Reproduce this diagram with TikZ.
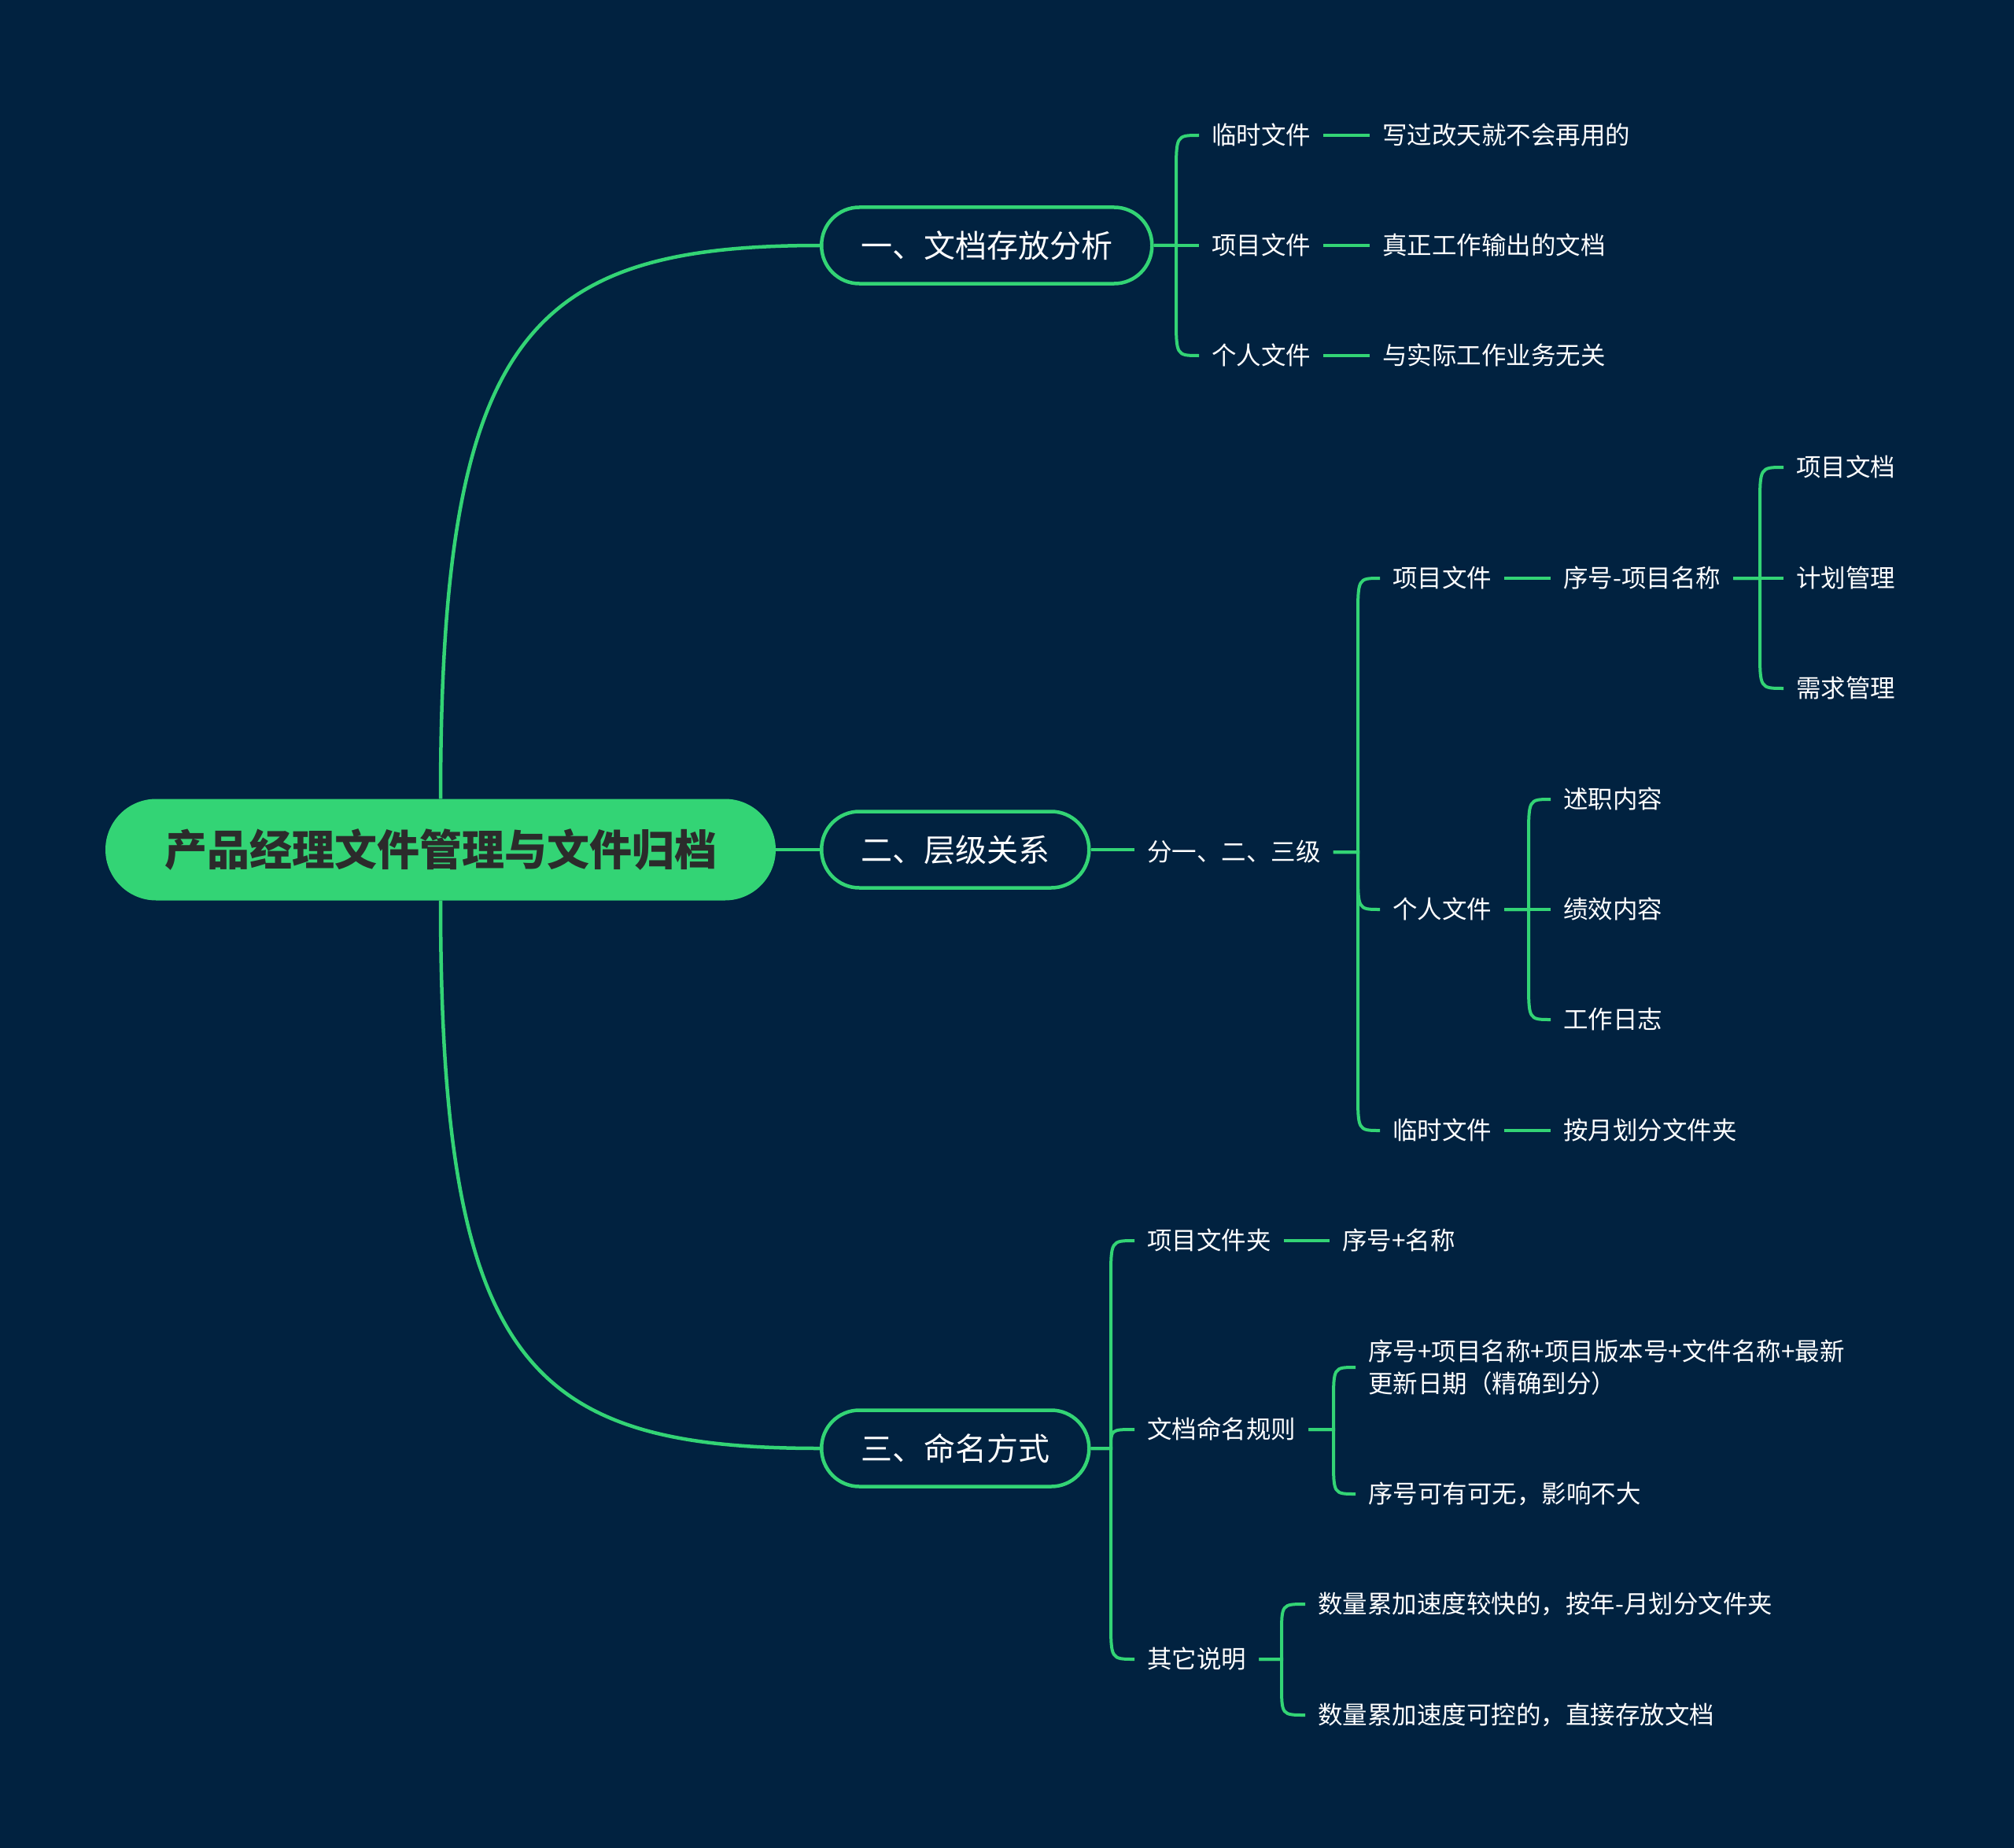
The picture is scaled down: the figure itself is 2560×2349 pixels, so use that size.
\documentclass[tikz,border=0pt]{standalone}
\usepackage{fontspec}
\setmainfont{Noto Sans CJK SC}
\usetikzlibrary{calc}
\definecolor{bg}{HTML}{012240}
\definecolor{grn}{HTML}{33D475}
\definecolor{dark}{HTML}{2B2B2B}
\newcommand\brk[4]{\draw[conn] (#1.east) -- (#1.east -| #2) -- ($(#3.west -| #2)+(0,#4)$) .. controls (#3.west -| #2) .. (#3.west);}
\newcommand\stl[2]{\draw[conn] (#1.east) -- (#2.west);}
\begin{document}
\begin{tikzpicture}[x=1pt,y=-1pt,
  font=\fontsize{31.5}{41}\selectfont,
  rootbox/.style={fill=grn, text=dark, font=\fontsize{54}{64}\selectfont\bfseries, rounded corners=64.5pt, minimum height=129pt, inner xsep=75pt, inner ysep=0pt},
  lvlbox/.style={draw=grn, line width=4.5pt, fill=bg, text=white, font=\fontsize{40}{48}\selectfont, rounded corners=48pt, minimum height=97pt, inner xsep=50pt, inner ysep=0pt, anchor=west},
  item/.style={text=white, inner xsep=16pt, inner ysep=4pt, anchor=west, text height=27.7pt, text depth=3.8pt},
  conn/.style={draw=grn, line width=4pt}]
\fill[bg] (0,0) rectangle (2560,2349);
\useasboundingbox (0,0) rectangle (2560,2349);

% root
\node[rootbox] (root) at (560,1080) {产品经理文件管理与文件归档};
% level 1
\node[lvlbox] (n1) at (1042,312) {一、文档存放分析};
\node[lvlbox] (n2) at (1042,1080) {二、层级关系};
\node[lvlbox] (n3) at (1042,1841) {三、命名方式};

\draw[conn, line width=4.5pt] (root.north) .. controls +(0,-590) and +(-370,0) .. (n1.west);
\draw[conn, line width=4.5pt] (root.south) .. controls +(0,590) and +(-370,0) .. (n3.west);
\draw[conn, line width=4.5pt] (root.east) -- (n2.west);

% bracket x positions
\coordinate (b1) at (1495,0);
\coordinate (b2) at (1726,0);
\coordinate (b3) at (2237,0);
\coordinate (b4) at (1943,0);
\coordinate (b5) at (1412,0);
\coordinate (b6) at (1695,0);
\coordinate (b7) at (1629,0);

% branch 1
\node[item] (c11) at (1524,172) {临时文件};
\node[item] (c12) at (1524,312) {项目文件};
\node[item] (c13) at (1524,452) {个人文件};
\node[item] (l11) at (1741,172) {写过改天就不会再用的};
\node[item] (l12) at (1741,312) {真正工作输出的文档};
\node[item] (l13) at (1741,452) {与实际工作业务无关};
\brk{n1}{b1}{c11}{50}
\stl{n1}{c12}
\brk{n1}{b1}{c13}{-50}
\stl{c11}{l11}
\stl{c12}{l12}
\stl{c13}{l13}

% branch 2
\node[item] (c21) at (1442,1083) {分一、二、三级};
\node[item] (c22) at (1754,735) {项目文件};
\node[item] (c23) at (1754,1156) {个人文件};
\node[item] (c24) at (1754,1437) {临时文件};
\node[item] (c25) at (1971,735) {序号-项目名称};
\node[item] (c26) at (2267,594) {项目文档};
\node[item] (c27) at (2267,735) {计划管理};
\node[item] (c28) at (2267,875) {需求管理};
\node[item] (c29) at (1971,1016) {述职内容};
\node[item] (c2a) at (1971,1156) {绩效内容};
\node[item] (c2b) at (1971,1296) {工作日志};
\node[item] (c2c) at (1971,1437) {按月划分文件夹};
\draw[conn] (n2.east) -- (c21.west |- n2.east);
\brk{c21}{b2}{c22}{50}
\brk{c21}{b2}{c23}{-50}
\brk{c21}{b2}{c24}{-50}
\stl{c22}{c25}
\brk{c25}{b3}{c26}{50}
\stl{c25}{c27}
\brk{c25}{b3}{c28}{-50}
\brk{c23}{b4}{c29}{50}
\stl{c23}{c2a}
\brk{c23}{b4}{c2b}{-50}
\stl{c24}{c2c}

% branch 3
\node[item] (c31) at (1442,1577) {项目文件夹};
\node[item] (c32) at (1442,1817) {文档命名规则};
\node[item] (c33) at (1442,2109) {其它说明};
\node[item] (l31) at (1690,1577) {序号+名称};
\node[item, align=left, text height={}, text depth={}] (l32) at (1723,1738) {序号+项目名称+项目版本号+文件名称+最新\\更新日期（精确到分）};
\node[item] (l33) at (1723,1899) {序号可有可无，影响不大};
\node[item] (l34) at (1659,2039) {数量累加速度较快的，按年-月划分文件夹};
\node[item] (l35) at (1659,2180) {数量累加速度可控的，直接存放文档};
\brk{n3}{b5}{c31}{50}
\brk{n3}{b5}{c32}{24}
\brk{n3}{b5}{c33}{-50}
\stl{c31}{l31}
\brk{c32}{b6}{l32}{45}
\brk{c32}{b6}{l33}{-45}
\brk{c33}{b7}{l34}{40}
\brk{c33}{b7}{l35}{-40}
\end{tikzpicture}
\end{document}
